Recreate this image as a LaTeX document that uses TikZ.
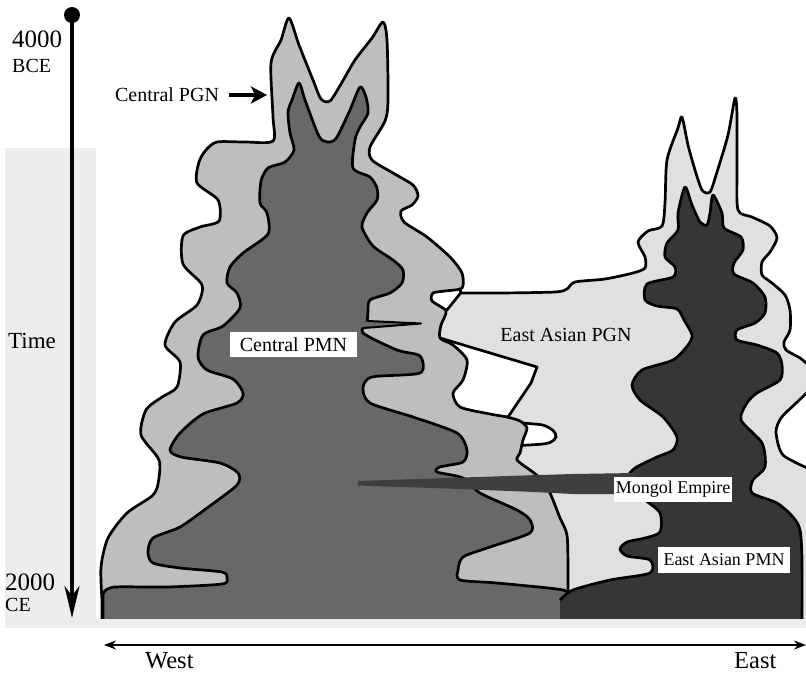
\documentclass[tikz,border=0pt]{standalone}
\usepackage{fontspec}
\setmainfont{Liberation Serif}
\usetikzlibrary{arrows.meta}
\definecolor{bandc}{HTML}{EDEDED}
\definecolor{cpgn}{HTML}{BEBEBE}
\definecolor{cpmn}{HTML}{686868}
\definecolor{epgn}{HTML}{E0E0E0}
\definecolor{epmn}{HTML}{363636}
\definecolor{barc}{HTML}{3E3E3E}
\begin{document}
\begin{tikzpicture}[x=1pt,y=-1pt,
  outl/.style={draw=black,line width=2.7pt,line join=round},
  sm/.style={smooth,tension=0.45},
  lblbox/.style={fill=white,inner sep=0pt},
  fa/.style={font=\fontsize{25}{28}\selectfont},
  fw/.style={font=\fontsize{24.5}{28}\selectfont},
  fb/.style={font=\fontsize{20}{24}\selectfont},
  fc/.style={font=\fontsize{18}{22}\selectfont}]
\useasboundingbox (0,0) rectangle (806,675);
% light band behind the left side
\fill[bandc] (5,148) rectangle (96,628);

\begin{scope}
\clip (0,0) rectangle (806,619);
% East Asian PGN
\fill[epgn] (520,640) -- (520,470) -- (495,425) -- (455,380) -- (430,330) -- (430,293)
 -- plot[sm] coordinates {(435,293) (460,293) (500,293) (555,292) (567,289) (575,282) (605,279) (633,273) (645,268) (645,257) (638,242) (648,231) (662,226) (665,203) (667,160) (678,128) (682,117) (688,145) (695,170) (702,190) (710,192) (717,172) (728,135) (735,98) (737,115) (737,170) (738,210) (752,217) (770,226) (777,238) (770,252) (762,262) (762,275) (772,283) (785,295) (790,310) (790,330) (784,342) (786,350) (800,358) (812,368)}
 -- (812,388)
 -- plot[sm] coordinates {(812,388) (794,405) (781,418) (776,432) (783,455) (812,470)}
 -- (812,640) -- cycle;
\draw[outl] plot[sm] coordinates {(435,293) (460,293) (500,293) (555,292) (567,289) (575,282) (605,279) (633,273) (645,268) (645,257) (638,242) (648,231) (662,226) (665,203) (667,160) (678,128) (682,117) (688,145) (695,170) (702,190) (710,192) (717,172) (728,135) (735,98) (737,115) (737,170) (738,210) (752,217) (770,226) (777,238) (770,252) (762,262) (762,275) (772,283) (785,295) (790,310) (790,330) (784,342) (786,350) (800,358) (812,368)};
\draw[outl] plot[sm] coordinates {(812,388) (794,405) (781,418) (776,432) (783,455) (812,470)};
% white pockets
\filldraw[fill=white,outl] (428,285) -- (458,285) -- (461,292.5) -- (447,310) -- (428,305) -- cycle;
\filldraw[fill=white,outl] (440,338) -- (537,367) -- (531,383) -- (508,417) -- (450,415) -- (440,360) -- cycle;
\filldraw[fill=white,outl,rounded corners=5pt] (512,422) -- (545,425) -- (557,433) -- (555,441) -- (545,444) -- (512,446) -- cycle;
% Central PGN
\filldraw[fill=cpgn,outl] (102,640) -- plot[sm] coordinates {(102,600) (101,567) (108,538) (127,513) (152,496) (158,484) (159,460) (141,435) (146,410) (162,397) (177,387) (180,362) (165,345) (175,322) (197,305) (202,285) (183,264) (183,236) (200,227) (219,221) (218,200) (197,183) (199,162) (206,150) (217,142) (245,142) (273,141) (273,117) (271,63) (281,40) (289,18) (299,45) (313,80) (321,99) (330,101) (341,84) (355,60) (372,38) (383,22) (387,40) (388,100) (385,121) (370,147) (372,160) (393,173) (413,185) (418,196) (412,205) (401,211) (404,222) (427,237) (450,257) (462,273) (462,288) (445,291) (433,293) (432,301) (446,311) (441,325) (440,338) (453,345) (467,360) (463,380) (453,393) (460,407) (490,414) (507,417) (520,421) (527,428) (523,440) (520,453) (517,460) (530,470) (540,478) (550,493) (560,518) (567,535) (568,570) (568,600)} -- (568,640) -- cycle;
% Central PMN
\filldraw[fill=cpmn,outl] (103,640) -- plot[sm] coordinates {(103,600) (104,592) (115,587) (167,587) (222,584) (227,578) (222,572) (180,568) (153,563) (148,552) (153,538) (180,527) (207,508) (237,485) (238,473) (220,463) (181,457) (170,450) (180,433) (203,414) (237,403) (243,393) (233,379) (207,370) (198,357) (203,335) (223,326) (240,308) (237,293) (227,283) (230,267) (243,253) (268,234) (267,213) (260,203) (261,181) (268,168) (285,162) (294,150) (290,133) (288,112) (292,100) (299,83) (305,100) (317,132) (322,140) (330,142) (337,137) (350,110) (360,87) (366,97) (368,113) (360,127) (355,140) (353,168) (370,177) (377,188) (377,200) (367,213) (362,227) (373,246) (393,260) (403,270) (402,283) (390,293) (370,300) (368,312) (367,322) (363,333) (397,350) (420,356) (420,373) (372,377) (363,388) (370,403) (413,417) (457,433) (467,450) (463,462) (440,467) (437,472) (463,478) (480,493) (517,510) (530,520) (530,533) (490,547) (463,557) (458,570) (460,580) (497,583) (563,590) (567,598)} -- (567,640) -- cycle;
% thin spike of the Central PMN
\fill[cpmn] (350,321) -- (421,323.5) -- (350,328) -- cycle;
\draw[outl,line width=2pt] (368,321) -- (421,323.5) -- (364,328);
% East Asian PMN
\fill[epmn] (560,640) -- plot[sm] coordinates {(560,600) (573,590) (610,580) (650,573) (650,560) (627,556) (620,549) (627,542) (645,538) (660,532) (660,513) (645,500) (630,488) (627,478) (635,468) (657,457) (673,450) (677,437) (663,417) (640,400) (632,385) (642,370) (673,360) (688,345) (692,335) (684,320) (677,309) (657,306) (645,300) (647,284) (673,277) (675,267) (665,257) (667,243) (678,230) (678,213) (685,187) (692,205) (700,222) (707,225) (710,213) (713,195) (722,213) (724,228) (741,237) (743,250) (734,263) (734,274) (753,283) (765,297) (765,313) (755,323) (737,330) (737,340) (757,345) (777,353) (782,365) (780,380) (757,393) (747,403) (741,420) (762,443) (765,467) (753,480) (752,493) (777,503) (793,517) (800,530) (802,560) (802,600)} -- (802,640) -- cycle;
\draw[outl] plot[sm] coordinates {(560,600) (573,590) (610,580) (650,573) (650,560) (627,556) (620,549) (627,542) (645,538) (660,532) (660,513) (645,500) (630,488) (627,478) (635,468) (657,457) (673,450) (677,437) (663,417) (640,400) (632,385) (642,370) (673,360) (688,345) (692,335) (684,320) (677,309) (657,306) (645,300) (647,284) (673,277) (675,267) (665,257) (667,243) (678,230) (678,213) (685,187) (692,205) (700,222) (707,225) (710,213) (713,195) (722,213) (724,228) (741,237) (743,250) (734,263) (734,274) (753,283) (765,297) (765,313) (755,323) (737,330) (737,340) (757,345) (777,353) (782,365) (780,380) (757,393) (747,403) (741,420) (762,443) (765,467) (753,480) (752,493) (777,503) (793,517) (800,530) (802,560) (802,640)};
% Mongol Empire wedge
\fill[barc] (358,481) -- (433,478.5) -- (523,475.5) -- (573,474) -- (636,473) -- (636,494) -- (573,494) -- (523,491.5) -- (433,488) -- (358,485.5) -- cycle;
\end{scope}

% bottom light strip
\fill[bandc] (5,618.5) rectangle (806,628);

% labels
\node[lblbox,fb,minimum width=127pt,minimum height=25pt] (lCPMN) at (293.5,344.5) {Central PMN};
\node[lblbox,fc,minimum width=118pt,minimum height=25pt] (lMongol) at (673,489.5) {Mongol Empire};
\node[lblbox,fc,minimum width=132pt,minimum height=26pt] (lEPMN) at (724,560) {East Asian PMN};
\node[fb,inner sep=0pt] (lEPGN) at (566,335) {East Asian PGN};
\node[fb,inner sep=2pt] (lCPGN) at (167,95) {Central PGN};
\coordinate (cpgnTip) at (267,95);
\draw[line width=4pt,-{Stealth[length=16pt,width=17pt,inset=4pt]}] ([xshift=8pt]lCPGN.east) -- (cpgnTip);

% time axis
\coordinate (tTop) at (72,15);
\coordinate (tBot) at (72,618);
\draw[line width=4pt,-{Stealth[length=32pt,width=15pt,inset=10pt]}] (tTop) -- (tBot);
\fill (tTop) circle (8pt);
\node[fa,anchor=base west,inner sep=0pt] (t4000) at (12,47) {4000};
\node[fb,anchor=base west,inner sep=0pt] (tBCE) at (12,72) {BCE};
\node[font=\fontsize{23}{26}\selectfont,anchor=base west,inner sep=0pt] (tTime) at (8,348) {Time};
\node[fa,anchor=base west,inner sep=0pt] (t2000) at (5,590) {2000};
\node[fb,anchor=base west,inner sep=0pt] (tCE) at (5,611) {CE};

% west-east axis
\coordinate (wEnd) at (104,645);
\coordinate (eEnd) at (806,645);
\draw[line width=1.6pt,{Stealth[length=12pt,width=9pt]}-{Stealth[length=12pt,width=9pt]}] (wEnd) -- (eEnd);
\node[fw,anchor=base west,inner sep=0pt] (lWest) at (145,668.5) {West};
\node[fw,anchor=base west,inner sep=0pt] (lEast) at (734,668.5) {East};
\end{tikzpicture}
\end{document}
